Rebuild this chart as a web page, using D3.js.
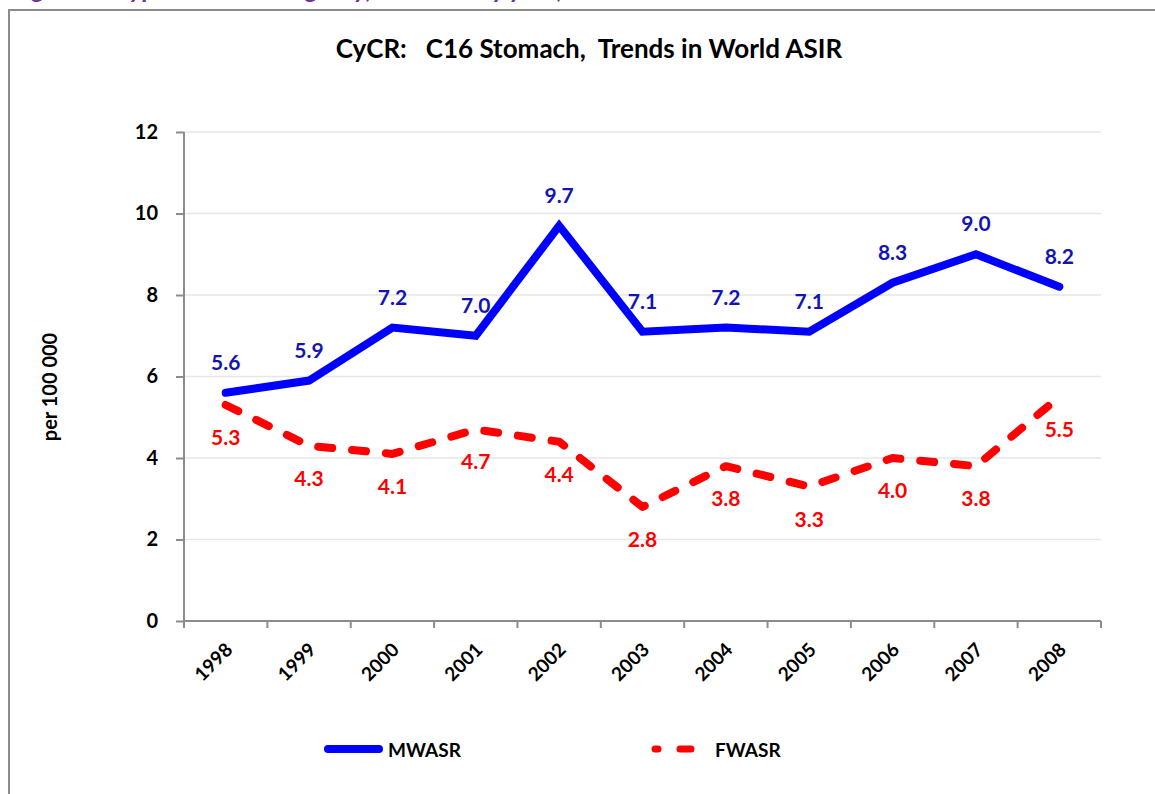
<!DOCTYPE html>
<html>
<head>
<meta charset="utf-8">
<script src="https://cdn.jsdelivr.net/npm/d3@7"></script>
<style>
  body { margin: 0; background: #fff; overflow: hidden; }
  text { font-family: Lato, "Open Sans", sans-serif; font-weight: bold; }
</style>
</head>
<body>
<script>
const years = ["1998", "1999", "2000", "2001", "2002", "2003", "2004", "2005", "2006", "2007", "2008"];
const mwasr = [5.6, 5.9, 7.2, 7.0, 9.7, 7.1, 7.2, 7.1, 8.3, 9.0, 8.2];
const fwasr = [5.3, 4.3, 4.1, 4.7, 4.4, 2.8, 3.8, 3.3, 4.0, 3.8, 5.5];
const yTicks = [0, 2, 4, 6, 8, 10, 12];

const width = 1155,
    height = 794;

const svg = d3.select('body')
    .append('svg')
    .attr('width', width)
    .attr('height', height);

// caption above the chart frame (cut off by the page)
svg.append('text')
    .attr('x', 12)
    .attr('y', -2)
    .attr('fill', '#7030a0')
    .style('font-size', '26px')
    .style('font-style', 'italic')
    .text('Figure 5:  Cyprus Cancer Registry,  Stomach by year,  ASIR');

// chart frame
svg.append('rect')
    .attr('x', 9)
    .attr('y', 10)
    .attr('width', 1200)
    .attr('height', 850)
    .attr('fill', '#fff')
    .attr('stroke', '#8c8c8c')
    .attr('stroke-width', 2);

const plotLeft = 184, plotRight = 1101, plotTop = 132, plotBottom = 621;

const x = d3.scaleBand()
    .domain(years)
    .range([plotLeft, plotRight]);

const y = d3.scaleLinear()
    .domain([0, 12])
    .range([plotBottom, plotTop]);

// title
svg.append('text')
    .attr('x', 589)
    .attr('y', 58)
    .attr('text-anchor', 'middle')
    .attr('fill', '#000')
    .style('font-size', '26px')
    .style('white-space', 'pre')
    .text('CyCR:   C16 Stomach,  Trends in World ASIR');

// gridlines
svg.append('g')
    .selectAll('line')
    .data(yTicks.slice(1))
    .enter().append('line')
    .attr('x1', plotLeft)
    .attr('x2', plotRight)
    .attr('y1', d => y(d))
    .attr('y2', d => y(d))
    .attr('stroke', '#e6e6e6')
    .attr('stroke-width', 1.5);

// y axis
const yAxis = svg.append('g')
    .attr('transform', 'translate(' + plotLeft + ',0)')
    .call(d3.axisLeft(y).tickValues(yTicks).tickSize(8).tickPadding(18));
yAxis.selectAll('line, path').attr('stroke', '#8c8c8c').attr('stroke-width', 2);
yAxis.select('.domain').attr('d', 'M0,' + plotTop + 'V' + plotBottom);
yAxis.selectAll('text')
    .attr('fill', '#000')
    .style('font-size', '20px')
    .style('font-family', 'Lato, sans-serif')
    .style('font-weight', 'bold');

// x axis with ticks between categories
const xAxis = svg.append('g')
    .attr('transform', 'translate(0,' + plotBottom + ')');
xAxis.append('line')
    .attr('x1', plotLeft)
    .attr('x2', plotRight)
    .attr('stroke', '#8c8c8c')
    .attr('stroke-width', 2);
xAxis.selectAll('.tick')
    .data(years.concat(['end']))
    .enter().append('line')
    .attr('x1', d => d === 'end' ? plotRight : x(d))
    .attr('x2', d => d === 'end' ? plotRight : x(d))
    .attr('y1', 0)
    .attr('y2', 7)
    .attr('stroke', '#8c8c8c')
    .attr('stroke-width', 2);
xAxis.selectAll('text')
    .data(years)
    .enter().append('text')
    .attr('transform', d => 'translate(' + (x(d) + x.bandwidth() / 2 + 8) + ',30) rotate(-45)')
    .attr('text-anchor', 'end')
    .attr('fill', '#000')
    .style('font-size', '19px')
    .text(d => d);

// axis title
svg.append('text')
    .attr('transform', 'translate(57,387) rotate(-90)')
    .attr('text-anchor', 'middle')
    .attr('fill', '#000')
    .style('font-size', '20px')
    .text('per 100 000');

const cx = (d, i) => x(years[i]) + x.bandwidth() / 2;

const line = d3.line()
    .x(cx)
    .y(d => y(d));

svg.append('path')
    .datum(mwasr)
    .attr('d', line)
    .attr('fill', 'none')
    .attr('stroke', '#0000ff')
    .attr('stroke-width', 8)
    .attr('stroke-linejoin', 'miter')
    .attr('stroke-linecap', 'round');

svg.append('path')
    .datum(fwasr)
    .attr('d', line)
    .attr('fill', 'none')
    .attr('stroke', '#ff0000')
    .attr('stroke-width', 8)
    .attr('stroke-dasharray', '14,20')
    .attr('stroke-linejoin', 'round')
    .attr('stroke-linecap', 'round');

// data labels
svg.append('g')
    .selectAll('text')
    .data(mwasr)
    .enter().append('text')
    .attr('x', cx)
    .attr('y', d => y(d) - 23)
    .attr('text-anchor', 'middle')
    .attr('fill', '#1414b4')
    .style('font-size', '21px')
    .text(d => d.toFixed(1));

svg.append('g')
    .selectAll('text')
    .data(fwasr)
    .enter().append('text')
    .attr('x', cx)
    .attr('y', d => y(d) + 40)
    .attr('text-anchor', 'middle')
    .attr('fill', '#ff0000')
    .style('font-size', '21px')
    .text(d => d.toFixed(1));

// legend
const legend = svg.append('g');
legend.append('line')
    .attr('x1', 328).attr('x2', 379)
    .attr('y1', 749).attr('y2', 749)
    .attr('stroke', '#0000ff')
    .attr('stroke-width', 8)
    .attr('stroke-linecap', 'round');
legend.append('text')
    .attr('x', 388).attr('y', 757)
    .attr('fill', '#000')
    .style('font-size', '19px')
    .text('MWASR');
legend.append('line')
    .attr('x1', 655).attr('x2', 707)
    .attr('y1', 749).attr('y2', 749)
    .attr('stroke', '#ff0000')
    .attr('stroke-width', 7)
    .attr('stroke-dasharray', '3,22,11,16,0.01,100')
    .attr('stroke-linecap', 'round');
legend.append('text')
    .attr('x', 715).attr('y', 757)
    .attr('fill', '#000')
    .style('font-size', '19px')
    .text('FWASR');
</script>
</body>
</html>
